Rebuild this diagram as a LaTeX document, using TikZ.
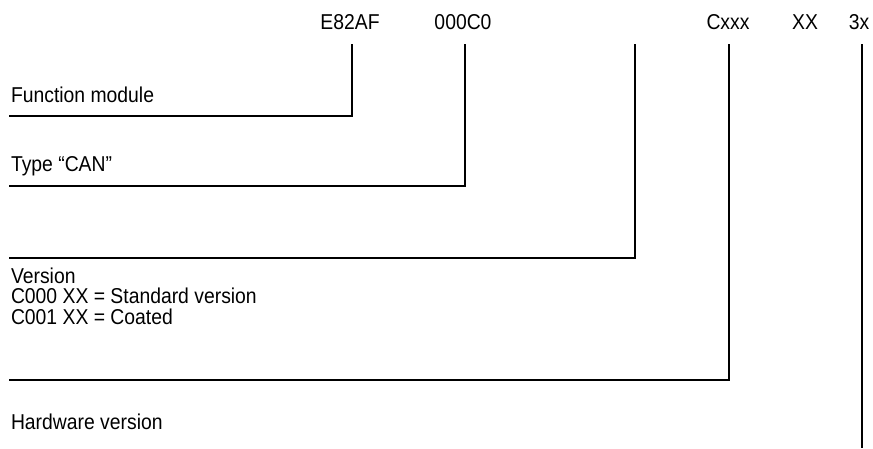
\documentclass[tikz,border=0pt]{standalone}
\usepackage{fontspec}
\setmainfont{Liberation Sans}[FakeStretch=0.9]
\begin{document}
\begin{tikzpicture}[x=1pt,y=-1pt,
  lbl/.style={inner sep=0pt,outer sep=0pt,font=\fontsize{21.5}{20.5}\selectfont},
  toplbl/.style={lbl,anchor=base},
  desc/.style={lbl,anchor=base west,align=left},
  conn/.style={line width=1.1pt,line cap=rect}]
\useasboundingbox (0,0) rectangle (873,448);
% top code labels
\node[toplbl] (e82) at (350,29) {E82AF};
\node[toplbl] (c000) at (463,29) {000C0};
\node[toplbl] (cxxx) at (728,29) {Cxxx};
\node[toplbl] (xx) at (805,29) {XX};
\node[toplbl] (x3) at (859,29) {3x};
% description labels
\node[desc] (fm) at (11,102) {Function module};
\node[desc] (tc) at (11,171) {Type “CAN”};
\node[desc] (ver) at (11,283) {Version};
\node[desc] (vstd) at (11,303.5) {C000 XX = Standard version};
\node[desc] (vcoat) at (11,324) {C001 XX = Coated};
\node[desc] (hw) at (11,429) {Hardware version};
% connector coordinates
\coordinate (t1) at (352,45); \coordinate (b1) at (10,116);
\coordinate (t2) at (465,45); \coordinate (b2) at (10,186);
\coordinate (t3) at (635,45); \coordinate (b3) at (10,258);
\coordinate (t4) at (729,45); \coordinate (b4) at (10,380);
\coordinate (t5) at (862,45); \coordinate (b5) at (862,447);
\draw[conn] (t1) |- (b1);
\draw[conn] (t2) |- (b2);
\draw[conn] (t3) |- (b3);
\draw[conn] (t4) |- (b4);
\draw[conn] (t5) -- (b5);
\end{tikzpicture}
\end{document}
